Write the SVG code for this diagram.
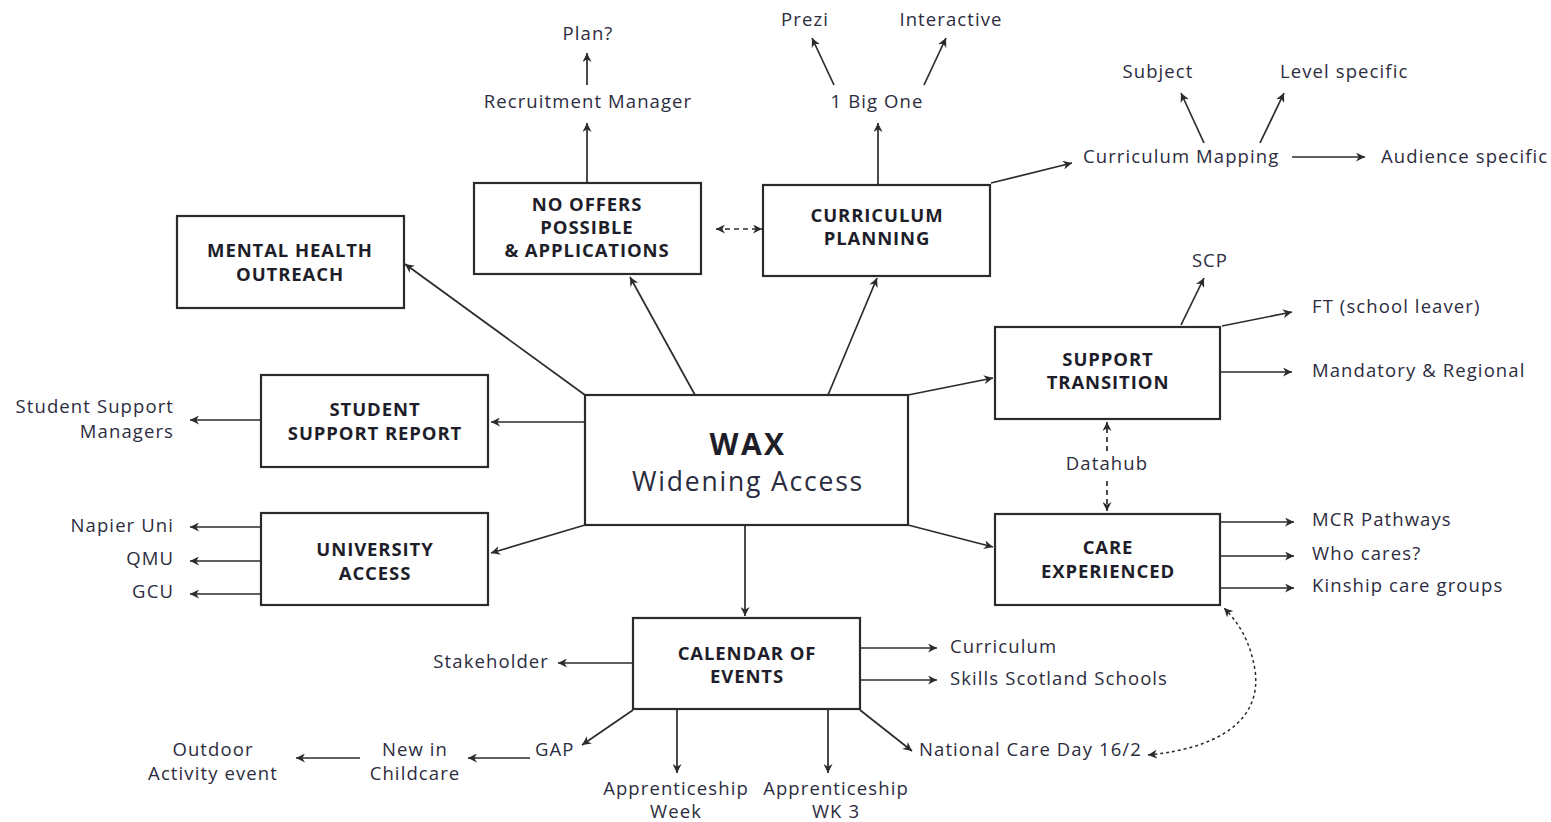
<svg xmlns="http://www.w3.org/2000/svg" width="1551" height="822" viewBox="0 0 1551 822">
<style>
.box{fill:#fff;stroke:#2b2b2b;stroke-width:2.2}
.t{font-family:"Open Sans","Liberation Sans",sans-serif;font-size:18.5px;letter-spacing:1.1px;fill:#2c2c40}
.b{font-family:"Open Sans","Liberation Sans",sans-serif;font-size:18.5px;font-weight:bold;fill:#1e1e2a;text-anchor:middle;letter-spacing:0.9px}
.c{text-anchor:middle}
.r{text-anchor:end}
.ln{fill:none;stroke:#2b2b2b;stroke-width:1.7;marker-end:url(#ah)}
.dl{fill:none;stroke:#2b2b2b;stroke-width:1.7;stroke-dasharray:5,4;marker-end:url(#ah)}
.dc{fill:none;stroke:#2b2b2b;stroke-width:1.5;stroke-dasharray:3,3;marker-end:url(#ah);marker-start:url(#as)}
</style>
<defs>
<marker id="ah" viewBox="0 0 10 10" refX="10" refY="5" markerWidth="9" markerHeight="9" markerUnits="userSpaceOnUse" orient="auto"><path d="M0,0 L10,5 L0,10 L3,5 z" fill="#2b2b2b"/></marker>
<marker id="as" viewBox="0 0 10 10" refX="0" refY="5" markerWidth="9" markerHeight="9" markerUnits="userSpaceOnUse" orient="auto"><path d="M10,0 L0,5 L10,10 L7,5 z" fill="#2b2b2b"/></marker>
</defs>
<rect width="1551" height="822" fill="#fff"/>
<g id="connectors">
<line class="ln" x1="585" y1="395" x2="405" y2="264"/>
<line class="ln" x1="695" y1="395" x2="630" y2="277"/>
<line class="ln" x1="828" y1="395" x2="877" y2="278"/>
<line class="ln" x1="585" y1="422" x2="491" y2="422"/>
<line class="ln" x1="585" y1="525" x2="491" y2="553"/>
<line class="ln" x1="745" y1="525" x2="745" y2="616"/>
<line class="ln" x1="908" y1="395" x2="993" y2="378"/>
<line class="ln" x1="908" y1="525" x2="993" y2="547"/>
<line class="ln" x1="587" y1="183" x2="587" y2="123"/>
<line class="ln" x1="587" y1="85" x2="587" y2="53"/>
<line class="ln" x1="878" y1="185" x2="878" y2="123"/>
<line class="ln" x1="834" y1="85" x2="812" y2="38"/>
<line class="ln" x1="924" y1="85" x2="946" y2="38"/>
<line class="dl" x1="716" y1="229" x2="762" y2="229" marker-start="url(#as)"/>
<line class="ln" x1="991" y1="183" x2="1072" y2="163"/>
<line class="ln" x1="1204" y1="143" x2="1181" y2="93"/>
<line class="ln" x1="1260" y1="143" x2="1284" y2="93"/>
<line class="ln" x1="1292" y1="157" x2="1365" y2="157"/>
<line class="ln" x1="1181" y1="325" x2="1204" y2="278"/>
<line class="ln" x1="1222" y1="326" x2="1292" y2="312"/>
<line class="ln" x1="1221" y1="372" x2="1292" y2="372"/>
<line class="dl" x1="1107" y1="451" x2="1107" y2="422"/>
<line class="dl" x1="1107" y1="481" x2="1107" y2="511"/>
<line class="ln" x1="1221" y1="522" x2="1294" y2="522"/>
<line class="ln" x1="1221" y1="556" x2="1294" y2="556"/>
<line class="ln" x1="1221" y1="588" x2="1294" y2="588"/>
<path class="dc" d="M1148,755 C1220,748 1262,720 1255,670 C1250,640 1238,622 1224,608"/>
<line class="ln" x1="261" y1="420" x2="190" y2="420"/>
<line class="ln" x1="261" y1="527" x2="190" y2="527"/>
<line class="ln" x1="261" y1="561" x2="190" y2="561"/>
<line class="ln" x1="261" y1="594" x2="190" y2="594"/>
<line class="ln" x1="633" y1="663" x2="558" y2="663"/>
<line class="ln" x1="860" y1="648" x2="937" y2="648"/>
<line class="ln" x1="860" y1="680" x2="937" y2="680"/>
<line class="ln" x1="633" y1="710" x2="582" y2="745"/>
<line class="ln" x1="530" y1="758" x2="468" y2="758"/>
<line class="ln" x1="360" y1="758" x2="296" y2="758"/>
<line class="ln" x1="677" y1="710" x2="677" y2="773"/>
<line class="ln" x1="828" y1="710" x2="828" y2="773"/>
<line class="ln" x1="860" y1="710" x2="912" y2="751"/>
</g>
<g id="wax"><rect class="box" x="585" y="395" width="323" height="130"/>
<text class="b" x="748" y="455" style="font-size:30px;letter-spacing:2.5px">WAX</text>
<text class="t c" x="748" y="491" style="font-size:26.5px;letter-spacing:1.8px">Widening Access</text></g>
<g id="no-offers"><rect class="box" x="474" y="183" width="227" height="91"/>
<text class="b" x="587" y="211">NO OFFERS</text><text class="b" x="587" y="234">POSSIBLE</text><text class="b" x="587" y="257">&amp; APPLICATIONS</text></g>
<g id="curriculum-planning"><rect class="box" x="763" y="185" width="227" height="91"/>
<text class="b" x="877" y="222">CURRICULUM</text><text class="b" x="877" y="245">PLANNING</text></g>
<g id="mental-health"><rect class="box" x="177" y="216" width="227" height="92"/>
<text class="b" x="290" y="257">MENTAL HEALTH</text><text class="b" x="290" y="281">OUTREACH</text></g>
<g id="student-support"><rect class="box" x="261" y="375" width="227" height="92"/>
<text class="b" x="375" y="416">STUDENT</text><text class="b" x="375" y="440">SUPPORT REPORT</text></g>
<g id="university-access"><rect class="box" x="261" y="513" width="227" height="92"/>
<text class="b" x="375" y="556">UNIVERSITY</text><text class="b" x="375" y="580">ACCESS</text></g>
<g id="support-transition"><rect class="box" x="995" y="327" width="225" height="92"/>
<text class="b" x="1108" y="366">SUPPORT</text><text class="b" x="1108" y="389">TRANSITION</text></g>
<g id="care-experienced"><rect class="box" x="995" y="514" width="225" height="91"/>
<text class="b" x="1108" y="554">CARE</text><text class="b" x="1108" y="578">EXPERIENCED</text></g>
<g id="calendar"><rect class="box" x="633" y="618" width="227" height="91"/>
<text class="b" x="747" y="660">CALENDAR OF</text><text class="b" x="747" y="683">EVENTS</text></g>
<g id="labels">
<text class="t c" x="588" y="40">Plan?</text>
<text class="t c" x="588" y="108">Recruitment  Manager</text>
<text class="t c" x="877" y="108">1 Big One</text>
<text class="t c" x="805" y="26">Prezi</text>
<text class="t c" x="951" y="26">Interactive</text>
<text class="t c" x="1158" y="78">Subject</text>
<text class="t" x="1280" y="78">Level specific</text>
<text class="t" x="1083" y="163">Curriculum Mapping</text>
<text class="t" x="1381" y="163">Audience specific</text>
<text class="t c" x="1210" y="267">SCP</text>
<text class="t" x="1312" y="313">FT (school leaver)</text>
<text class="t" x="1312" y="377">Mandatory &amp; Regional</text>
<text class="t c" x="1107" y="470">Datahub</text>
<text class="t" x="1312" y="526">MCR Pathways</text>
<text class="t" x="1312" y="560">Who cares?</text>
<text class="t" x="1312" y="592">Kinship care groups</text>
<text class="t r" x="174" y="413">Student Support</text>
<text class="t r" x="174" y="438">Managers</text>
<text class="t r" x="174" y="532">Napier Uni</text>
<text class="t r" x="174" y="565">QMU</text>
<text class="t r" x="174" y="598">GCU</text>
<text class="t r" x="549" y="668">Stakeholder</text>
<text class="t" x="950" y="653">Curriculum</text>
<text class="t" x="950" y="685">Skills Scotland Schools</text>
<text class="t" x="535" y="756">GAP</text>
<text class="t c" x="415" y="756">New in</text>
<text class="t c" x="415" y="780">Childcare</text>
<text class="t c" x="213" y="756">Outdoor</text>
<text class="t c" x="213" y="780">Activity event</text>
<text class="t c" x="676" y="795">Apprenticeship</text>
<text class="t c" x="676" y="818">Week</text>
<text class="t c" x="836" y="795">Apprenticeship</text>
<text class="t c" x="836" y="818">WK 3</text>
<text class="t" x="919" y="756">National Care Day 16/2</text>
</g>
</svg>
